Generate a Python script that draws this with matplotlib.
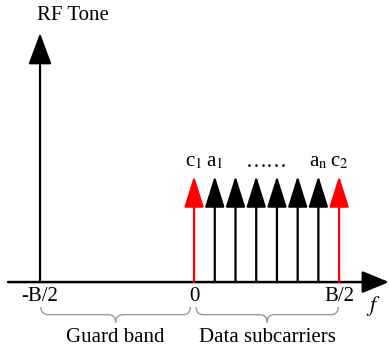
import numpy as np
import matplotlib
matplotlib.use("Agg")
import matplotlib.pyplot as plt
from matplotlib.path import Path
from matplotlib.patches import PathPatch

plt.rcParams['font.family'] = ['Liberation Serif', 'DejaVu Serif']
plt.rcParams['mathtext.fontset'] = 'stix'

# Spectrum description (frequency in units of B, amplitudes relative to the RF tone)
rf_tone_freq = -0.531
rf_tone_amp = 1.0
carrier_freqs = [0.0, 1/14, 2/14, 3/14, 4/14, 5/14, 6/14, 0.5]
carrier_amp = 0.426
carrier_colors = ['red', 'black', 'black', 'black', 'black', 'black', 'black', 'red']

carrier_labels = [r'c$_1$', r'a$_1$', '……', r'a$_\mathrm{n}$', r'c$_2$']
carrier_label_freqs = [0.0, 1/14, 3.5/14, 6/14, 0.5]

tick_freqs = [rf_tone_freq, 0.0, 0.5]
tick_labels = ['-B/2', '0', 'B/2']

band_names = ['Guard band', 'Data subcarriers']
band_edges = [(rf_tone_freq + 0.003, -0.013), (0.007, 0.497)]

fig = plt.figure(figsize=(3.89, 3.56), dpi=100)
ax = fig.add_axes([0, 0, 1, 1])
ax.set_xlim(-0.669, 0.672)
ax.set_ylim(-0.297, 1.133)
ax.axis('off')

FS = 15

def spike(x, h, color, hl, hw, lw=1.6):
    ax.annotate('', xy=(x, h), xytext=(x, 0),
                arrowprops=dict(arrowstyle=f'-|>,head_length={hl},head_width={hw}',
                                color=color, lw=lw, shrinkA=0, shrinkB=0,
                                mutation_scale=1))

# frequency axis
ax.annotate('', xy=(0.672, 0), xytext=(-0.641, 0),
            arrowprops=dict(arrowstyle='-|>,head_length=16.5,head_width=6.8',
                            color='black', lw=1.8, shrinkA=0, shrinkB=0,
                            mutation_scale=1))

# RF tone
spike(rf_tone_freq, rf_tone_amp, 'black', 19.4, 7.2)
ax.text(rf_tone_freq + 0.114, 1.072, 'RF Tone', fontsize=FS,
        ha='center', va='center')

# subcarriers
for f, c in zip(carrier_freqs, carrier_colors):
    spike(f, carrier_amp, c, 19.4, 6.1)

for f, lab in zip(carrier_label_freqs, carrier_labels):
    ax.text(f, 0.482, lab, fontsize=FS, ha='center', va='center')

# tick labels
for f, lab in zip(tick_freqs, tick_labels):
    ax.text(f, -0.06, lab, fontsize=FS, ha='center', va='center')
ax.text(0.617, -0.095, r'$f$', fontsize=FS + 1, ha='center', va='center')


def brace(x0, x1, y_top, y_tip, color='#9a9a9a'):
    ym = (y_top + y_tip) / 2
    xm = (x0 + x1) / 2
    a = 0.025
    verts = [(x0, y_top), (x0, ym), (x0 + a, ym),
             (xm - a, ym), (xm, ym), (xm, y_tip),
             (xm, ym), (xm + a, ym),
             (x1 - a, ym), (x1, ym), (x1, y_top)]
    codes = [Path.MOVETO, Path.CURVE3, Path.CURVE3,
             Path.LINETO, Path.CURVE3, Path.CURVE3,
             Path.CURVE3, Path.CURVE3,
             Path.LINETO, Path.CURVE3, Path.CURVE3]
    ax.add_patch(PathPatch(Path(verts, codes), fill=False, ec=color, lw=1.0))


for (x0, x1), name in zip(band_edges, band_names):
    brace(x0, x1, -0.100, -0.162)
    ax.text((x0 + x1) / 2, -0.221, name, fontsize=FS, ha='center', va='center')

fig.savefig('out.png', dpi=100)
